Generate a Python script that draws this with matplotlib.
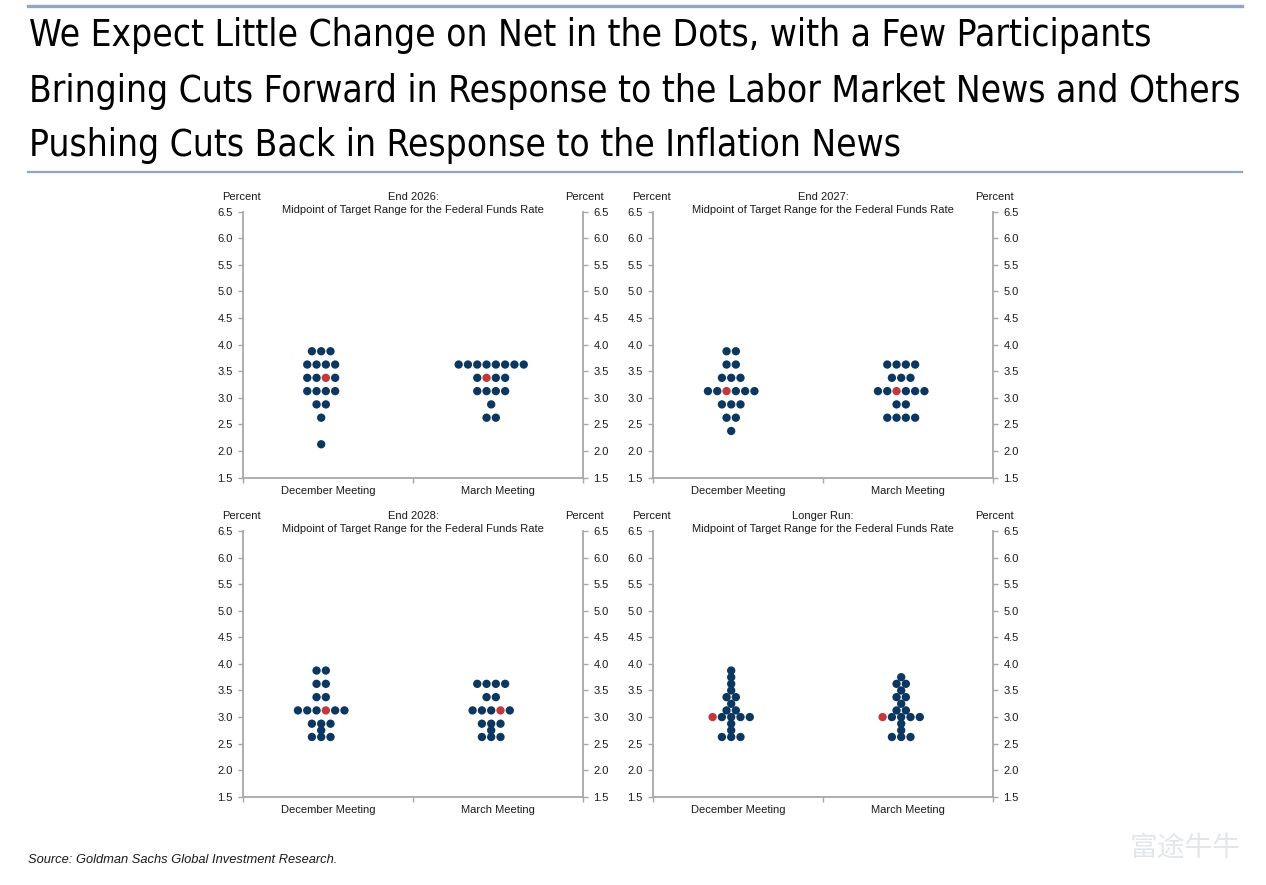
import matplotlib
matplotlib.use("Agg")
import matplotlib.pyplot as plt
from matplotlib import font_manager
from matplotlib.lines import Line2D
from matplotlib.font_manager import FontProperties
import numpy as np

# ---------------- data ----------------
title_lines = [
    "We Expect Little Change on Net in the Dots, with a Few Participants",
    "Bringing Cuts Forward in Response to the Labor Market News and Others",
    "Pushing Cuts Back in Response to the Inflation News",
]
panel_titles = ["End 2026:", "End 2027:", "End 2028:", "Longer Run:"]
panel_subtitle = "Midpoint of Target Range for the Federal Funds Rate"
meetings = ["December Meeting", "March Meeting"]
y_ticks = [1.5, 2.0, 2.5, 3.0, 3.5, 4.0, 4.5, 5.0, 5.5, 6.0, 6.5]
source_text = "Source: Goldman Sachs Global Investment Research."

# End 2026
dec26_rates = [3.875, 3.625, 3.375, 3.125, 2.875, 2.625, 2.125]
dec26_counts = [3, 4, 4, 4, 2, 1, 1]
dec26_median = (3.375, 2)          # (rate, slot in row)
mar26_rates = [3.625, 3.375, 3.125, 2.875, 2.625]
mar26_counts = [8, 4, 4, 1, 2]
mar26_median = (3.375, 1)

# End 2027
dec27_rates = [3.875, 3.625, 3.375, 3.125, 2.875, 2.625, 2.375]
dec27_counts = [2, 2, 3, 6, 3, 2, 1]
dec27_median = (3.125, 2)
mar27_rates = [3.625, 3.375, 3.125, 2.875, 2.625]
mar27_counts = [4, 3, 6, 2, 4]
mar27_median = (3.125, 2)

# End 2028
dec28_rates = [3.875, 3.625, 3.375, 3.125, 2.875, 2.75, 2.625]
dec28_counts = [2, 2, 2, 6, 3, 1, 3]
dec28_median = (3.125, 3)
mar28_rates = [3.625, 3.375, 3.125, 2.875, 2.75, 2.625]
mar28_counts = [4, 2, 5, 3, 1, 3]
mar28_median = (3.125, 3)

# Longer run
decLR_rates = [3.875, 3.75, 3.625, 3.5, 3.375, 3.25, 3.125, 3.0, 2.875, 2.75, 2.625]
decLR_counts = [1, 1, 1, 1, 2, 1, 2, 5, 1, 1, 3]
decLR_median = (3.0, 0)
marLR_rates = [3.75, 3.625, 3.5, 3.375, 3.25, 3.125, 3.0, 2.875, 2.75, 2.625]
marLR_counts = [1, 2, 1, 2, 1, 2, 5, 1, 1, 3]
marLR_median = (3.0, 0)

panels = [
    [(dec26_rates, dec26_counts, dec26_median), (mar26_rates, mar26_counts, mar26_median)],
    [(dec27_rates, dec27_counts, dec27_median), (mar27_rates, mar27_counts, mar27_median)],
    [(dec28_rates, dec28_counts, dec28_median), (mar28_rates, mar28_counts, mar28_median)],
    [(decLR_rates, decLR_counts, decLR_median), (marLR_rates, marLR_counts, marLR_median)],
]

# ---------------- style ----------------
NAVY = "#0b3760"
RED = "#c0393b"
SPINE = "#a8a8a8"
TXT = "#1a1a1a"
RULE = "#8fa7c4"
W, H = 1266, 885

plt.rcParams["font.family"] = ["Liberation Sans", "DejaVu Sans"]

fig = plt.figure(figsize=(W / 100, H / 100), dpi=100)
fig.patch.set_facecolor("white")

def fx(px):
    return px / W

def fy(py):
    return 1 - py / H

# choose a condensed font for the headline
def find_narrow():
    best = None
    for f in font_manager.fontManager.ttflist:
        nm = f.name.lower()
        fn = f.fname.lower()
        st = str(f.stretch).lower()
        if f.style != "normal":
            continue
        if str(f.weight) not in ("400", "normal", "regular", "book"):
            if not (isinstance(f.weight, int) and f.weight == 400):
                continue
        if ("narrow" in nm or "condensed" in nm or "condensed" in st
                or "narrow" in fn or "condensed" in fn):
            if "semi" in fn or "extra" in fn or "semi" in st:
                if best is None:
                    best = f.fname
                continue
            return f.fname
    return best

narrow_path = find_narrow()
if narrow_path:
    title_fp = FontProperties(fname=narrow_path)
else:
    title_fp = FontProperties(family="Liberation Sans")

# fit headline width
renderer = fig.canvas.get_renderer()
probe = fig.text(0, 0, title_lines[1], fontproperties=title_fp, fontsize=30)
bb = probe.get_window_extent(renderer=renderer)
probe.remove()
target_w = 1210
fs_title = min(30 * target_w / bb.width, 31)

baselines = [46.5, 101.5, 156.5]
for line, b in zip(title_lines, baselines):
    fig.text(fx(29), fy(b), line, fontproperties=title_fp, fontsize=fs_title,
             color="black", va="baseline", ha="left")

fig.add_artist(Line2D([fx(28), fx(1242)], [fy(6), fy(6)], color=RULE, lw=2.4))
fig.add_artist(Line2D([fx(28), fx(1242)], [fy(172), fy(172)], color=RULE, lw=1.6))

# ---------------- panels ----------------
ax_lefts = [243, 653, 243, 653]
ax_tops = [211.7, 211.7, 531.0, 531.0]
ax_w_px = 340
ax_h_px = 265.8
dx = 9.3 / 170.0          # horizontal spacing between dots (data units)
col_shift = -0.04
dot_s = 36

for k, (ax_l, ax_t) in enumerate(zip(ax_lefts, ax_tops)):
    ax = fig.add_axes([fx(ax_l), fy(ax_t + ax_h_px), ax_w_px / W, ax_h_px / H])
    ax.set_xlim(0, 2)
    ax.set_ylim(1.5, 6.5)
    for side in ("left", "right", "bottom"):
        ax.spines[side].set_color(SPINE)
        ax.spines[side].set_linewidth(1.3)
    ax.spines["top"].set_visible(False)

    ax.set_yticks(y_ticks)
    ax.set_yticklabels([f"{v:.1f}" for v in y_ticks])
    ax.tick_params(axis="y", which="major", left=True, right=True,
                   labelleft=True, labelright=True, direction="out",
                   length=3.5, width=1.0, color=SPINE, labelsize=8,
                   labelcolor=TXT, pad=4)
    ax.set_xticks([0, 1, 2])
    ax.set_xticklabels([])
    ax.set_xticks([0.5, 1.5], minor=True)
    ax.set_xticklabels(meetings, minor=True)
    ax.tick_params(axis="x", which="major", direction="out", length=3.5,
                   width=1.0, color=SPINE)
    ax.tick_params(axis="x", which="minor", length=0, labelsize=8,
                   labelcolor=TXT, pad=6)

    for m, (rates, counts, median) in enumerate(panels[k]):
        center = m + 0.5 + col_shift
        xs_all, ys_all, cs_all = [], [], []
        for r, n in zip(rates, counts):
            offs = (np.arange(n) - (n - 1) / 2.0) * dx
            for j, o in enumerate(offs):
                xs_all.append(center + o)
                ys_all.append(r)
                is_med = (abs(r - median[0]) < 1e-9 and j == median[1])
                cs_all.append(RED if is_med else NAVY)
        ax.scatter(xs_all, ys_all, s=dot_s, c=cs_all, linewidths=0,
                   zorder=3, clip_on=False)

    # header texts
    ax.text(-0.006, 1.055, "Percent", transform=ax.transAxes, ha="center",
            va="center", fontsize=8, color=TXT)
    ax.text(1.003, 1.055, "Percent", transform=ax.transAxes, ha="center",
            va="center", fontsize=8, color=TXT)
    ax.text(0.5, 1.055, panel_titles[k], transform=ax.transAxes, ha="center",
            va="center", fontsize=8, color=TXT)
    ax.text(0.5, 1.006, panel_subtitle, transform=ax.transAxes, ha="center",
            va="center", fontsize=8, color=TXT)

# ---------------- footer ----------------
fig.text(fx(28), fy(860), source_text, fontsize=9.3, style="italic",
         color=TXT, ha="left", va="center")
fig.text(fx(1130), fy(848), "富途牛牛", fontsize=20, color="#e3e6eb",
         ha="left", va="center", family=["Noto Sans CJK SC", "DejaVu Sans"])

fig.savefig("out.png", dpi=100, facecolor="white")
